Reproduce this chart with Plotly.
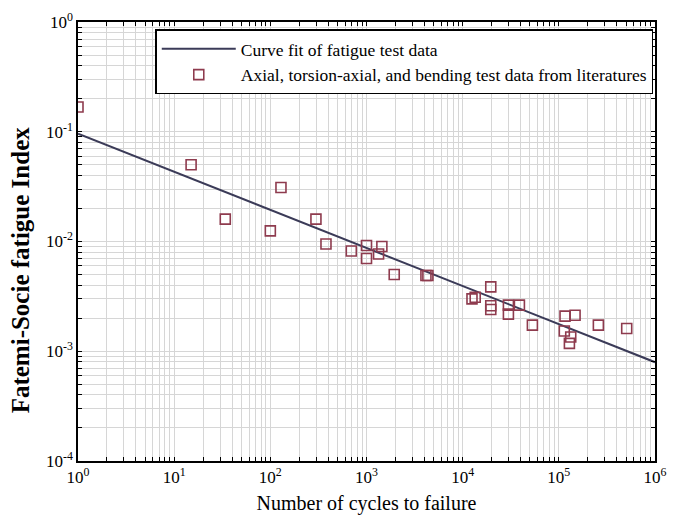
import numpy as np
import plotly.graph_objects as go

# Data
cycles = [1, 15, 34, 100, 129, 298, 379, 695, 1000, 1000, 1335, 1445, 1942,
          4150, 4350, 12500, 13500, 19600, 19600, 19600, 29900, 29900, 38900,
          53100, 114000, 116000, 128800, 133000, 147500, 257700, 508000]
fs_index = [0.168, 0.050, 0.016, 0.0125, 0.031, 0.016, 0.0095, 0.0082, 0.0092,
            0.0070, 0.0077, 0.0090, 0.0050, 0.0049, 0.0049, 0.0030, 0.0031,
            0.00386, 0.0026, 0.0024, 0.00263, 0.00218, 0.00263, 0.00173,
            0.00153, 0.00209, 0.00118, 0.00135, 0.00213, 0.00173, 0.00161]

# Curve fit parameters: FS = A * N^b
fit_A = 0.096
fit_b = -0.347
fit_range = [1, 1e6]

x_decades = [0, 1, 2, 3, 4, 5, 6]
y_decades = [-4, -3, -2, -1, 0]

fit_x = np.logspace(np.log10(fit_range[0]), np.log10(fit_range[1]), 50)
fit_y = fit_A * fit_x ** fit_b


def log_ticks(decades):
    vals, texts = [], []
    for d in decades:
        for m in range(1, 10):
            if d == decades[-1] and m > 1:
                break
            vals.append(m * 10.0 ** d)
            texts.append(f"10<sup>{d}</sup>" if m == 1 else "")
    return vals, texts


xv, xt = log_ticks(x_decades)
yv, yt = log_ticks(y_decades)

fig = go.Figure()
fig.add_trace(go.Scatter(x=fit_x, y=fit_y, mode="lines",
                         line=dict(color="#3b3b58", width=2),
                         name="Curve fit of fatigue test data"))
fig.add_trace(go.Scatter(x=cycles, y=fs_index, mode="markers",
                         marker=dict(symbol="square-open", size=10,
                                     color="#8e3b4e", line=dict(width=1.6)),
                         name="Axial, torsion-axial, and bending test data from literatures"))

font_family = "Liberation Serif"
axis_common = dict(type="log", showline=True, linecolor="black", linewidth=1.5,
                   mirror="ticks", ticks="inside", ticklen=4, tickcolor="black",
                   showgrid=True, gridcolor="#d6d6d6", gridwidth=1, automargin=False,
                   zeroline=False, tickfont=dict(family=font_family, size=17, color="black"))

fig.update_xaxes(**axis_common, range=[0, 6], tickvals=xv, ticktext=xt,
                 title=dict(text="Number of cycles to failure",
                            font=dict(family=font_family, size=20, color="black"),
                            standoff=10))
fig.update_yaxes(**axis_common, range=[-4, 0], tickvals=yv, ticktext=yt)

fig.add_annotation(text="<b>Fatemi-Socie fatigue Index</b>", textangle=-90,
                   xref="paper", yref="paper", x=-0.1, y=0.435,
                   xanchor="center", yanchor="middle", showarrow=False,
                   font=dict(family=font_family, size=25, color="black"))

fig.update_layout(
    width=681, height=517,
    margin=dict(l=78, r=26, t=22, b=56),
    paper_bgcolor="white", plot_bgcolor="white",
    font=dict(family=font_family, color="black"),
    legend=dict(x=0.997, y=0.983, xanchor="right", yanchor="top",
                bgcolor="white", bordercolor="black", borderwidth=1.5,
                font=dict(family=font_family, size=17.5, color="black"),
                tracegroupgap=0, itemwidth=74),
    showlegend=True,
)

fig.write_html("out.html")
